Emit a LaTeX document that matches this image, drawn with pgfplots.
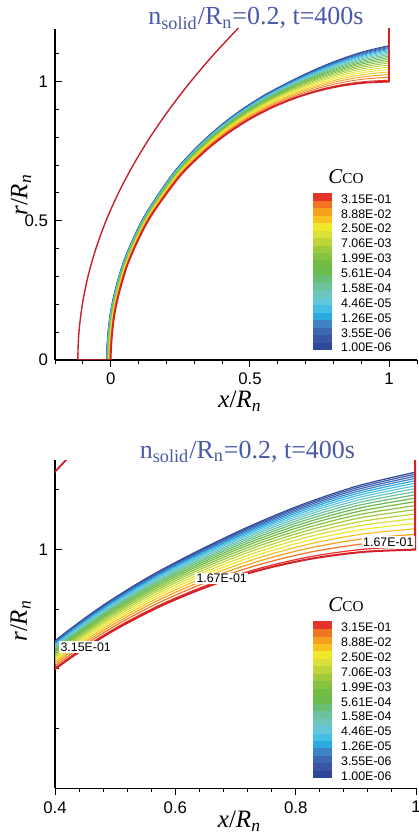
\documentclass[border=0pt]{standalone}
\usepackage{pgfplots}
\pgfplotsset{compat=1.18}
\usepackage{pgfplotstable}
\usepackage{fontspec}
\setmainfont{Liberation Serif}
\newfontfamily\arial{Liberation Sans}

\definecolor{c0}{HTML}{2E4799}
\definecolor{c1}{HTML}{3A55A5}
\definecolor{c2}{HTML}{3C68B2}
\definecolor{c3}{HTML}{3D83C5}
\definecolor{c4}{HTML}{2BA9E1}
\definecolor{c5}{HTML}{45BEE6}
\definecolor{c6}{HTML}{62C8D9}
\definecolor{c7}{HTML}{6DC6BD}
\definecolor{c8}{HTML}{6CC29C}
\definecolor{c9}{HTML}{69BE76}
\definecolor{c10}{HTML}{6BBB4E}
\definecolor{c11}{HTML}{72BC43}
\definecolor{c12}{HTML}{86C341}
\definecolor{c13}{HTML}{A0CA3D}
\definecolor{c14}{HTML}{BDD43B}
\definecolor{c15}{HTML}{D9E039}
\definecolor{c16}{HTML}{F1E82A}
\definecolor{c17}{HTML}{F8C320}
\definecolor{c18}{HTML}{F6A11E}
\definecolor{c19}{HTML}{F07523}
\definecolor{c20}{HTML}{E6332A}
\definecolor{wallred}{HTML}{D42027}
\definecolor{shockred}{HTML}{C8202A}
\definecolor{titleblue}{HTML}{4A5AA8}

% contour lines C_CO: polar angle phi (deg, centre at x=1,r=0) and radius R
\pgfplotstableread{
phi R0 R1 R2 R3 R4 R5 R6 R7 R8 R9 R10 R11 R12 R13 R14 R15 R16 R17 R18 R19 R20 W
190 1.01560 1.01521 1.01479 1.01435 1.01388 1.01338 1.01285 1.01229 1.01168 1.01104 1.01036 1.00964 1.00886 1.00805 1.00718 1.00624 1.00526 1.00420 1.00307 1.00189 1.00062 1
180 1.01500 1.01463 1.01422 1.01380 1.01335 1.01287 1.01236 1.01182 1.01124 1.01062 1.00996 1.00927 1.00852 1.00774 1.00690 1.00600 1.00506 1.00404 1.00296 1.00182 1.00060 1
170 1.01560 1.01521 1.01479 1.01435 1.01388 1.01338 1.01285 1.01229 1.01168 1.01104 1.01036 1.00964 1.00886 1.00805 1.00718 1.00624 1.00526 1.00420 1.00307 1.00189 1.00062 1
160 1.01720 1.01677 1.01631 1.01582 1.01531 1.01476 1.01417 1.01355 1.01288 1.01218 1.01142 1.01063 1.00977 1.00888 1.00791 1.00688 1.00580 1.00463 1.00339 1.00208 1.00069 1
150 1.02000 1.01950 1.01896 1.01840 1.01780 1.01716 1.01648 1.01576 1.01498 1.01416 1.01328 1.01236 1.01136 1.01032 1.00920 1.00800 1.00674 1.00538 1.00394 1.00242 1.00080 1
140 1.02500 1.02438 1.02370 1.02300 1.02225 1.02145 1.02060 1.01970 1.01873 1.01770 1.01660 1.01545 1.01420 1.01290 1.01150 1.01000 1.00843 1.00673 1.00493 1.00303 1.00100 1
135 1.02870 1.02798 1.02721 1.02640 1.02554 1.02462 1.02365 1.02262 1.02150 1.02032 1.01906 1.01774 1.01630 1.01481 1.01320 1.01148 1.00967 1.00772 1.00565 1.00347 1.00115 1
130 1.03300 1.03218 1.03128 1.03036 1.02937 1.02831 1.02719 1.02600 1.02472 1.02336 1.02191 1.02039 1.01874 1.01703 1.01518 1.01320 1.01112 1.00888 1.00650 1.00399 1.00132 1
125 1.03850 1.03754 1.03650 1.03542 1.03427 1.03303 1.03172 1.03034 1.02884 1.02726 1.02556 1.02379 1.02187 1.01987 1.01771 1.01540 1.01297 1.01036 1.00758 1.00466 1.00154 1
120 1.04500 1.04388 1.04266 1.04140 1.04005 1.03861 1.03708 1.03546 1.03371 1.03186 1.02988 1.02781 1.02556 1.02322 1.02070 1.01800 1.01517 1.01211 1.00887 1.00545 1.00180 1
115 1.05250 1.05119 1.04977 1.04830 1.04673 1.04505 1.04326 1.04137 1.03932 1.03717 1.03486 1.03245 1.02982 1.02709 1.02415 1.02100 1.01769 1.01412 1.01034 1.00635 1.00210 1
110 1.06150 1.05996 1.05830 1.05658 1.05474 1.05277 1.05068 1.04846 1.04606 1.04354 1.04084 1.03801 1.03493 1.03173 1.02829 1.02460 1.02073 1.01654 1.01212 1.00744 1.00246 1
105 1.07500 1.07313 1.07110 1.06900 1.06675 1.06435 1.06180 1.05910 1.05618 1.05310 1.04980 1.04635 1.04260 1.03870 1.03450 1.03000 1.02528 1.02018 1.01478 1.00908 1.00300 1
100 1.09200 1.08970 1.08722 1.08464 1.08188 1.07894 1.07581 1.07250 1.06891 1.06514 1.06109 1.05686 1.05226 1.04747 1.04232 1.03680 1.03100 1.02475 1.01812 1.01113 1.00368 1
95 1.11100 1.10823 1.10523 1.10212 1.09879 1.09524 1.09146 1.08747 1.08314 1.07859 1.07370 1.06860 1.06305 1.05728 1.05106 1.04440 1.03741 1.02986 1.02187 1.01343 1.00444 1
90 1.13000 1.12675 1.12324 1.11960 1.11570 1.11154 1.10712 1.10244 1.09737 1.09204 1.08632 1.08034 1.07384 1.06708 1.05980 1.05200 1.04381 1.03497 1.02561 1.01573 1.00520 1
}\contours

% outer (shock) red line
\pgfplotstableread{
x y
-0.1140 -0.1
-0.1180 0
-0.1140 0.1
-0.1018 0.2
-0.0816 0.3
-0.0532 0.4
-0.0168 0.5
0.0278 0.6
0.0805 0.7
0.1412 0.8
0.2101 0.9
0.2870 1.0
0.3721 1.1
0.4652 1.2
}\shock

\pgfplotsset{
  myaxis/.style={
    scale only axis,
    axis x line*=bottom, axis y line*=left,
    axis line style={line width=0.75pt, black},
    tick align=inside,
    major tick length=3.5pt, minor tick length=2pt,
    tick style={line width=0.5pt, black},
    major x tick style={yshift=-3.5pt},
    minor x tick style={yshift=-2pt},
    minor tick num=4,
    /pgf/number format/assume math mode=true,
    tick label style={font=\fontsize{8.4}{9}\selectfont\arial},
    xticklabel style={yshift=-3pt},
    label style={font=\fontsize{12.5}{13}\selectfont},
    xlabel={\textit{x}/\textit{R}\textsubscript{\textit{n}}},
    ylabel={\textit{r}/\textit{R}\textsubscript{\textit{n}}},
  }
}

\begin{document}
\begin{tikzpicture}
\useasboundingbox (0,0) rectangle (209pt,419.5pt);

% ---------------- top panel ----------------
\begin{axis}[myaxis,
  at={(27.5pt,239.5pt)}, anchor=south west,
  width=181pt, height=165.6pt,
  xmin=-0.2, xmax=1.1, ymin=0, ymax=1.19,
  xtick={-0.5,0,0.5,1,1.5}, ytick={0,0.5,1,1.5},
  xlabel style={at={(axis description cs:0.511,-0.1253)}, anchor=center},
  ylabel style={at={(axis description cs:-0.094,0.4985)}, anchor=center},
]
\pgfplotsinvokeforeach{0,...,20}{
  \addplot[c#1, line width=0.45pt, smooth, data cs=polar, xshift=139.2308pt]
    table[x=phi, y=R#1] {\contours};
}
\addplot[wallred, line width=0.9pt, smooth, data cs=polar, xshift=139.2308pt]
  table[x=phi, y=W] {\contours};
\addplot[wallred, line width=0.9pt] coordinates {(1,1) (1,1.2)};
\addplot[shockred, line width=0.7pt, smooth] table[x=x, y=y] {\shock};
\addplot[shockred!80!black, line width=0.9pt] coordinates {(-0.118,0) (0,0)};
\end{axis}

% ---------------- bottom panel ----------------
\begin{axis}[myaxis,
  at={(27.5pt,25.35pt)}, anchor=south west,
  width=180.5pt, height=164.1pt,
  xmin=0.4, xmax=1.0, ymin=0.6, ymax=1.15,
  xtick={0.2,0.4,0.6,0.8,1,1.2}, ytick={0.5,1,1.5},
  xlabel style={at={(axis description cs:0.511,-0.1005)}, anchor=center},
  ylabel style={at={(axis description cs:-0.0956,0.51)}, anchor=center},
]
\pgfplotsinvokeforeach{0,...,20}{
  \addplot[c#1, line width=0.6pt, smooth, data cs=polar, xshift=300.8333pt]
    table[x=phi, y=R#1] {\contours};
}
\addplot[wallred, line width=1pt, smooth, data cs=polar, xshift=300.8333pt]
  table[x=phi, y=W] {\contours};
\addplot[wallred, line width=1.6pt] coordinates {(1,1) (1,1.2)};
\addplot[shockred, line width=0.9pt, smooth] table[x=x, y=y] {\shock};
\node[fill=white, inner sep=0.6pt, font=\fontsize{6.2}{7}\selectfont\arial] at (axis cs:0.954,1.0127) {1.67E-01};
\node[fill=white, inner sep=0.6pt, font=\fontsize{6.2}{7}\selectfont\arial] at (axis cs:0.677,0.9514) {1.67E-01};
\node[fill=white, inner sep=0.6pt, font=\fontsize{6.2}{7}\selectfont\arial] at (axis cs:0.451,0.8368) {3.15E-01};
\end{axis}

% ---------------- titles ----------------
\node[anchor=base, text=titleblue, font=\fontsize{13}{15}\selectfont, inner sep=0pt]
  at (128pt,407pt) {n\textsubscript{solid}/R\textsubscript{n}=0.2, t=400s};
\node[anchor=base, text=titleblue, font=\fontsize{13}{15}\selectfont, inner sep=0pt]
  at (123.75pt,190.35pt) {n\textsubscript{solid}/R\textsubscript{n}=0.2, t=400s};

% ---------------- colour legends ----------------
\foreach \yb/\yt/\yl in {244.5/327.85/320, 30.35/113.5/105.8}{
  \foreach \i in {0,...,20}{
    \fill[c\i] (156.35pt,{\yb pt+\i*3.731pt}) rectangle (166pt,{\yb pt+\i*3.731pt+3.8pt});
  }
  \node[anchor=base west, inner sep=0pt] at (164pt,\yt pt)
    {{\fontsize{10.5}{11}\selectfont\itshape C}{\fontsize{7.6}{8}\selectfont CO}};
  \foreach \t [count=\j from 0] in {3.15E-01,8.88E-02,2.50E-02,7.06E-03,1.99E-03,5.61E-04,1.58E-04,4.46E-05,1.26E-05,3.55E-06,1.00E-06}{
    \node[anchor=west, inner sep=0pt, font=\fontsize{6.2}{7}\selectfont\arial]
      at (170.35pt,{\yl pt-\j*7.435pt}) {\t};
  }
}
\end{tikzpicture}
\end{document}
